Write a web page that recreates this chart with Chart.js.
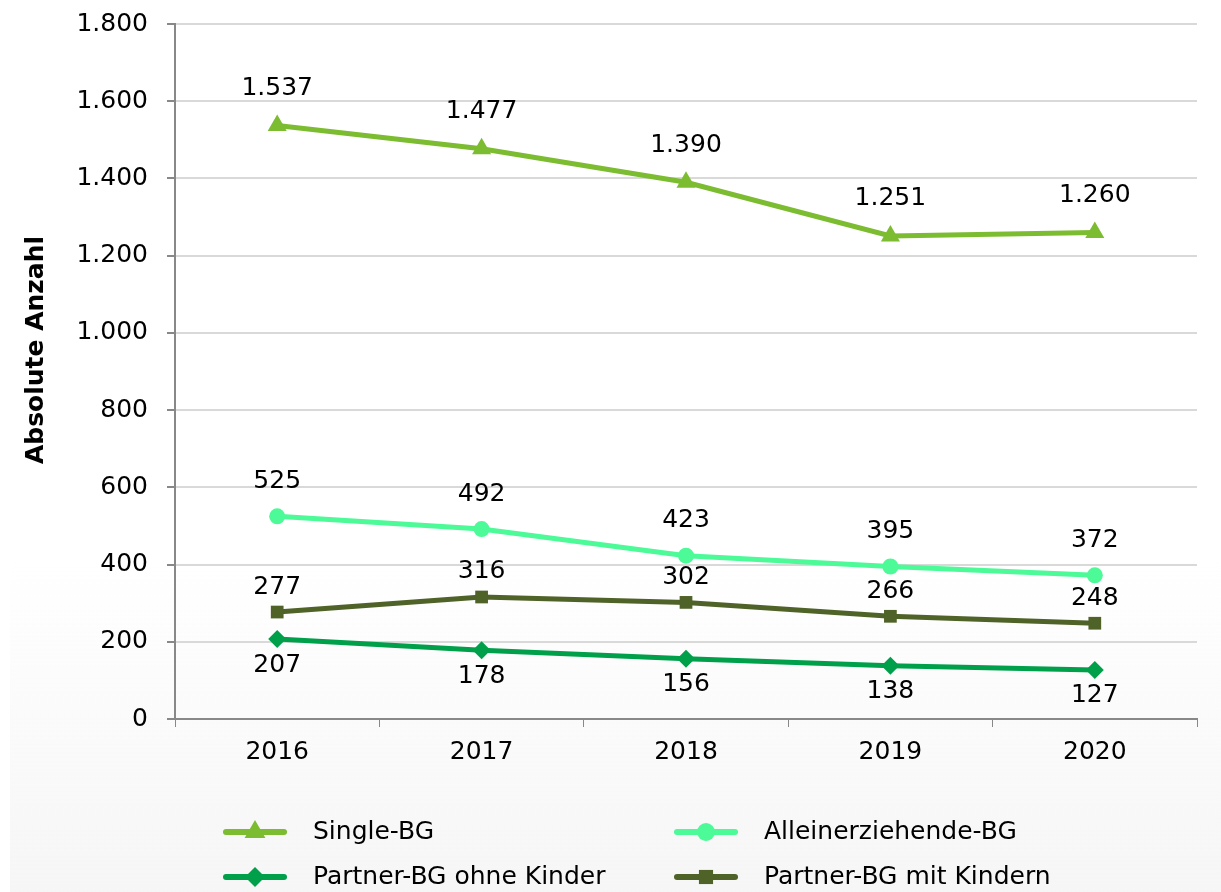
<!DOCTYPE html>
<html>
<head>
<meta charset="utf-8">
<script src="https://cdn.jsdelivr.net/npm/chart.js@4"></script>
<style>
  html, body { margin: 0; padding: 0; background: #fff; overflow: hidden; }
</style>
</head>
<body>
<canvas id="mainChart" width="1221" height="892"></canvas>
<script>
const years = ['2016', '2017', '2018', '2019', '2020'];
const singleBG = [1537, 1477, 1390, 1251, 1260];
const alleinBG = [525, 492, 423, 395, 372];
const ohneKinderBG = [207, 178, 156, 138, 127];
const mitKindernBG = [277, 316, 302, 266, 248];

const FONT = "'DejaVu Sans', Verdana, sans-serif";
const SIZE = 25;
const fmt = v => v.toLocaleString('de-DE');

// soft grey fade behind the lower part of the picture + y axis title
const bgPlugin = {
  id: 'bg',
  beforeDraw(chart) {
    const c = chart.ctx;
    const g = c.createLinearGradient(0, 560, 0, 892);
    g.addColorStop(0, 'rgba(246,246,246,0)');
    g.addColorStop(1, 'rgba(246,246,246,1)');
    c.save();
    c.fillStyle = g;
    c.fillRect(10, 560, chart.width - 10, chart.height - 560);
    // axis title, a bit above the middle as in the original
    c.translate(36, 350);
    c.rotate(-Math.PI / 2);
    c.font = 'bold ' + SIZE + 'px ' + FONT;
    c.fillStyle = '#000';
    c.textAlign = 'center';
    c.textBaseline = 'middle';
    c.fillText('Absolute Anzahl', 0, 0);
    c.restore();
  }
};

// value labels next to each point
const labelPlugin = {
  id: 'valueLabels',
  afterDatasetsDraw(chart) {
    const c = chart.ctx;
    c.save();
    c.font = SIZE + 'px ' + FONT;
    c.fillStyle = '#000';
    c.textAlign = 'center';
    c.textBaseline = 'middle';
    chart.data.datasets.forEach((ds, i) => {
      chart.getDatasetMeta(i).data.forEach((pt, j) => {
        c.fillText(fmt(ds.data[j]), pt.x, pt.y + ds.labelOffset);
      });
    });
    c.restore();
  }
};

// legend: line with marker in the middle, two columns
const legendPlugin = {
  id: 'lineLegend',
  afterDraw(chart) {
    const c = chart.ctx;
    const slots = [[226, 832], [677, 832], [226, 877], [677, 877]];
    c.save();
    chart.data.datasets.forEach((ds, k) => {
      const [x, y] = slots[k];
      c.strokeStyle = ds.borderColor;
      c.lineWidth = 6;
      c.lineCap = 'round';
      c.beginPath();
      c.moveTo(x, y);
      c.lineTo(x + 58, y);
      c.stroke();
      c.fillStyle = ds.borderColor;
      c.strokeStyle = ds.borderColor;
      Chart.helpers.drawPoint(c, {
        pointStyle: ds.pointStyle,
        radius: ds.pointRadius + 1,
        rotation: 0,
        borderWidth: 0
      }, x + 29, y);
      c.fillStyle = '#000';
      c.font = SIZE + 'px ' + FONT;
      c.textAlign = 'left';
      c.textBaseline = 'middle';
      c.fillText(ds.label, x + 87, y);
    });
    c.restore();
  }
};

const ctx = document.getElementById('mainChart').getContext('2d');

function series(label, data, color, style, radius, offset) {
  return {
    label: label,
    data: data,
    borderColor: color,
    backgroundColor: color,
    pointBackgroundColor: color,
    pointBorderColor: color,
    pointBorderWidth: 0,
    pointStyle: style,
    pointRadius: radius,
    borderWidth: 5,
    borderCapStyle: 'round',
    tension: 0,
    labelOffset: offset
  };
}

new Chart(ctx, {
  type: 'line',
  data: {
    labels: years,
    datasets: [
      series('Single-BG', singleBG, '#7cbc31', 'triangle', 11, -37),
      series('Alleinerziehende-BG', alleinBG, '#4cfa98', 'circle', 8, -35),
      series('Partner-BG ohne Kinder', ohneKinderBG, '#00a04b', 'rectRot', 9, 26),
      series('Partner-BG mit Kindern', mitKindernBG, '#4f6228', 'rect', 9, -25)
    ]
  },
  options: {
    responsive: false,
    animation: false,
    devicePixelRatio: 1,
    layout: { padding: { top: 24, right: 24, bottom: 113, left: 0 } },
    plugins: {
      legend: { display: false },
      tooltip: { enabled: false }
    },
    scales: {
      x: {
        offset: true,
        grid: {
          offset: true,
          drawOnChartArea: false,
          tickLength: 8,
          tickColor: '#888'
        },
        border: { color: '#888', width: 2 },
        ticks: { color: '#000', font: { family: FONT, size: SIZE }, padding: 10 },
        afterFit(scale) { scale.height = 60; scale.paddingLeft = 0; scale.paddingRight = 0; }
      },
      y: {
        min: 0,
        max: 1800,
        ticks: {
          stepSize: 200,
          color: '#000',
          font: { family: FONT, size: SIZE },
          padding: 19,
          callback: v => fmt(v)
        },
        grid: { color: '#d9d9d9', lineWidth: 2, tickLength: 8, tickColor: '#888' },
        border: { color: '#888', width: 2 },
        afterFit(scale) { scale.width = 175; scale.paddingTop = 0; scale.paddingBottom = 0; }
      }
    }
  },
  plugins: [bgPlugin, labelPlugin, legendPlugin]
});
</script>
</body>
</html>
